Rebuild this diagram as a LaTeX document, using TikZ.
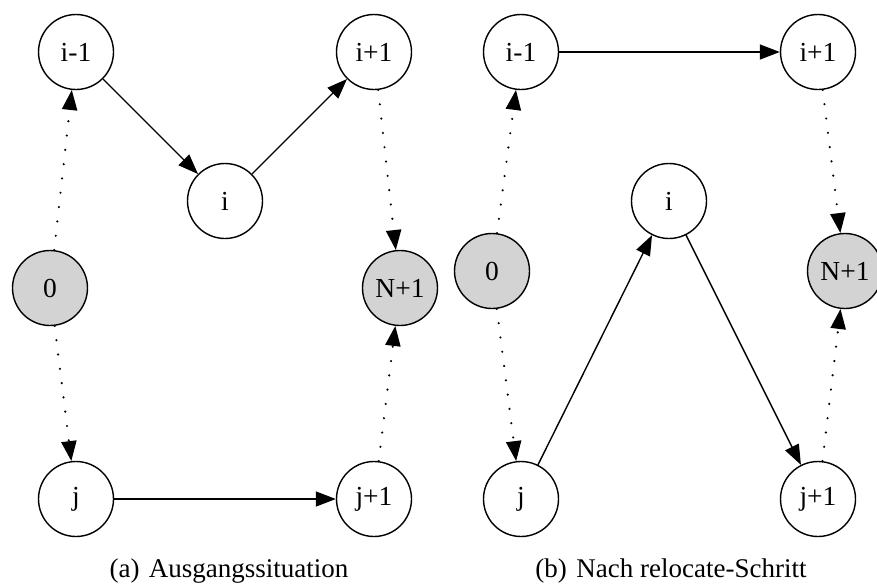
\documentclass[tikz,border=0pt]{standalone}
\usepackage{fontspec}
\setmainfont{Liberation Serif}
\usetikzlibrary{arrows.meta}
\definecolor{nodegray}{RGB}{211,211,211}
\tikzset{
  vx/.style={circle,draw=black,line width=1.4pt,minimum size=75pt,inner sep=0pt,
    font=\fontsize{27.5}{30}\selectfont},
  depot/.style={vx,fill=nodegray},
  tip/.style={-{Triangle[length=20pt,width=15pt]}},
  solidedge/.style={tip,line width=1.4pt},
  dotedge/.style={tip,line width=2.4pt,line cap=round,dash pattern=on 0pt off 14.4pt},
  caption/.style={font=\fontsize{27}{30}\selectfont,inner sep=0pt,anchor=base}
}
\begin{document}
\begin{tikzpicture}[x=1pt,y=-1pt]
\useasboundingbox (0,0) rectangle (877,584);
% left panel
\node[vx] (a-im) at (76,52) {i-1};
\node[vx] (a-ip) at (374,52) {i+1};
\node[vx] (a-i) at (225,201) {i};
\node[depot] (a-0) at (50,288) {0};
\node[depot] (a-N) at (400,288) {N+1};
\node[vx] (a-j) at (76,499) {j};
\node[vx] (a-jp) at (374,499) {j+1};
\draw[solidedge] (a-im) -- (a-i);
\draw[solidedge] (a-i) -- (a-ip);
\draw[solidedge] (a-j) -- (a-jp);
\draw[dotedge] (a-0) -- (a-im);
\draw[dotedge] (a-0) -- (a-j);
\draw[dotedge] (a-ip) -- (a-N);
\draw[dotedge] (a-jp) -- (a-N);
\node[caption] (capa) at (229,577) {(a)\hspace{0.35em}Ausgangssituation};
% right panel
\node[vx] (b-im) at (521,52) {i-1};
\node[vx] (b-ip) at (818,52) {i+1};
\node[vx] (b-i) at (669,201) {i};
\node[depot] (b-0) at (492,271) {0};
\node[depot] (b-N) at (845,271) {N+1};
\node[vx] (b-j) at (521,499) {j};
\node[vx] (b-jp) at (818,499) {j+1};
\draw[solidedge] (b-im) -- (b-ip);
\draw[solidedge] (b-j) -- (b-i);
\draw[solidedge] (b-i) -- (b-jp);
\draw[dotedge] (b-0) -- (b-im);
\draw[dotedge] (b-0) -- (b-j);
\draw[dotedge] (b-ip) -- (b-N);
\draw[dotedge] (b-jp) -- (b-N);
\node[caption] (capb) at (671,577) {(b)\hspace{0.35em}Nach relocate-Schritt};
\end{tikzpicture}
\end{document}
